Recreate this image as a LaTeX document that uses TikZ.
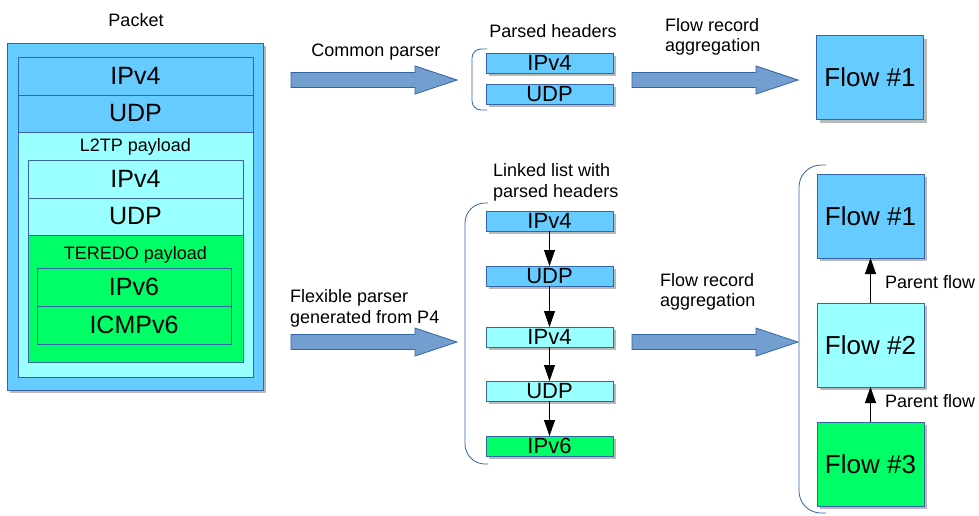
\documentclass[tikz,border=0pt]{standalone}
\usepackage{fontspec}
\setmainfont{Liberation Sans}
\usetikzlibrary{arrows.meta}
\usetikzlibrary{shadows}

\definecolor{hdrblue}{HTML}{66CCFF}
\definecolor{hdrcyan}{HTML}{99FFFF}
\definecolor{hdrgreen}{HTML}{00FF66}
\definecolor{edgeblue}{HTML}{3465A4}
\definecolor{arrowblue}{HTML}{729FCF}

\newcommand{\bigfont}{\fontsize{25}{30}\selectfont}
\newcommand{\listfont}{\fontsize{22}{26}\selectfont}
\newcommand{\flowfont}{\fontsize{26}{30}\selectfont}
\newcommand{\labfont}{\fontsize{18}{20.5}\selectfont}

\begin{document}
\begin{tikzpicture}[x=1pt, y=-1pt]
\useasboundingbox (0,0) rectangle (979,515);

% the packet with its nested headers
\begin{scope}[every node/.style={draw=edgeblue, line width=0.8pt, inner sep=0pt, outer sep=0pt, font=\bigfont}]
  \node[fill=hdrblue, minimum width=256pt, minimum height=347pt,
        drop shadow={shadow xshift=3pt, shadow yshift=-3pt, fill=black!55}] (packet) at (135,216.5) {};
  \node[fill=hdrblue, minimum width=235pt, minimum height=38pt] (ipv4a) at (135.5,76) {IPv4};
  \node[fill=hdrblue, minimum width=235pt, minimum height=37pt] (udpa) at (135.5,113.5) {UDP};
  \node[fill=hdrcyan, minimum width=235pt, minimum height=245pt] (l2tp) at (135.5,254.5) {};
  \node[fill=hdrcyan, minimum width=215pt, minimum height=38pt] (ipv4b) at (135.5,179) {IPv4};
  \node[fill=hdrcyan, minimum width=215pt, minimum height=37pt] (udpb) at (135.5,216.5) {UDP};
  \node[fill=hdrgreen, minimum width=215pt, minimum height=127pt] (teredo) at (135.5,298.5) {};
  \node[fill=hdrgreen, minimum width=194pt, minimum height=38pt] (ipv6) at (134,287) {IPv6};
  \node[fill=hdrgreen, minimum width=194pt, minimum height=38pt] (icmp) at (134,325) {ICMPv6};
\end{scope}

% parsed header lists
\begin{scope}[every node/.style={draw=edgeblue, line width=0.8pt, inner sep=0pt, outer sep=0pt,
              minimum width=127pt, minimum height=20pt, font=\listfont,
              drop shadow={shadow xshift=3pt, shadow yshift=-3pt, fill=black!55}}]
  \node[fill=hdrblue] (p1) at (549.5,63) {IPv4};
  \node[fill=hdrblue] (p2) at (549.5,94) {UDP};

  \node[fill=hdrblue] (l1) at (549.5,221) {IPv4};
  \node[fill=hdrblue] (l2) at (549.5,276) {UDP};
  \node[fill=hdrcyan] (l3) at (549.5,337) {IPv4};
  \node[fill=hdrcyan] (l4) at (549.5,391) {UDP};
  \node[fill=hdrgreen] (l5) at (549.5,446) {IPv6};
\end{scope}

% flow records
\begin{scope}[every node/.style={draw=edgeblue, line width=0.8pt, inner sep=0pt, outer sep=0pt,
              minimum width=107pt, minimum height=84pt, font=\flowfont,
              drop shadow={shadow xshift=3pt, shadow yshift=-3pt, fill=black!55}}]
  \node[fill=hdrblue] (top1) at (870,77.5) {Flow \#1};
  \node[fill=hdrblue] (f1) at (870.5,216) {Flow \#1};
  \node[fill=hdrcyan] (f2) at (870.5,345) {Flow \#2};
  \node[fill=hdrgreen] (f3) at (870.5,464) {Flow \#3};
\end{scope}

% texts
\begin{scope}[every node/.style={font=\labfont, inner sep=0pt}]
  \node (pkt) at (136,20) {Packet};
  \node (l2tplab) at (135.5,147) {L2TP payload};
  \node (teredolab) at (135.5,255) {TEREDO payload};
  \node (common) at (376,52) {Common parser};
  \node (parsed) at (553,31) {Parsed headers};
  \node[anchor=west, align=left] (agg1) at (665,37) {Flow record\\aggregation};
  \node[anchor=west, align=left] (linked) at (493,182.5) {Linked list with\\parsed headers};
  \node[anchor=west, align=left] (flexible) at (290,308.5) {Flexible parser\\generated from P4};
  \node[anchor=west, align=left] (agg2) at (660,292) {Flow record\\aggregation};
  \node[anchor=west] (par1) at (885,282) {Parent flow};
  \node[anchor=west] (par2) at (885,401) {Parent flow};
\end{scope}

% big arrows
\begin{scope}[every path/.style={fill=arrowblue, draw=edgeblue, line width=0.8pt}]
  \foreach \x/\y in {291/80, 632/80, 291/342, 632/342}
    \draw (\x,\y-7.5) -- (\x+124,\y-7.5) -- (\x+124,\y-14) -- (\x+166,\y)
          -- (\x+124,\y+14) -- (\x+124,\y+7.5) -- (\x,\y+7.5) -- cycle;
\end{scope}

% brackets
\begin{scope}[draw=edgeblue, line width=0.8pt]
  \draw[rounded corners=9pt] (487,49) -- (472,49) -- (472,110) -- (487,110);
  \draw[rounded corners=20pt] (488,203) -- (465,203) -- (465,464) -- (488,464);
  \draw[rounded corners=22pt] (826,165) -- (799,165) -- (799,513) -- (826,513);
\end{scope}

% links
\begin{scope}[>={Triangle[length=16pt, width=11pt]}, line width=0.8pt]
  \draw[->] (l1) -- (l2);
  \draw[->] (l2) -- (l3);
  \draw[->] (l3) -- (l4);
  \draw[->] (l4) -- (l5);
  \draw[->] (f2) -- (f1);
  \draw[->] (f3) -- (f2);
\end{scope}
\end{tikzpicture}
\end{document}
